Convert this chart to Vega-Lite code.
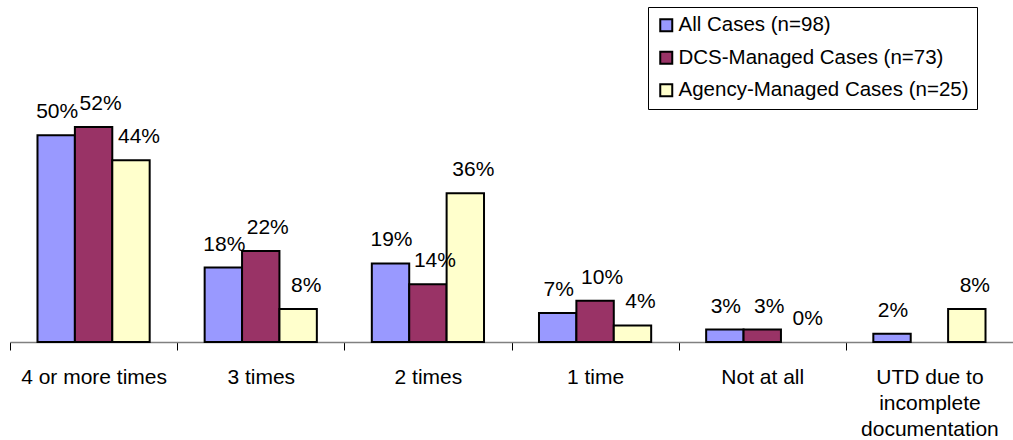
{
  "$schema": "https://vega.github.io/schema/vega-lite/v6.json",
  "width": 1003,
  "height": 248,
  "autosize": {"type": "none"},
  "padding": {"left": 10, "top": 94, "right": 0, "bottom": 98},
  "background": "white",
  "config": {"font": "Liberation Sans", "view": {"stroke": null}},
  "data": {
    "values": [
      {"category": "4 or more times", "series": "All Cases (n=98)", "value": 0.50},
      {"category": "4 or more times", "series": "DCS-Managed Cases (n=73)", "value": 0.52},
      {"category": "4 or more times", "series": "Agency-Managed Cases (n=25)", "value": 0.44},
      {"category": "3 times", "series": "All Cases (n=98)", "value": 0.18},
      {"category": "3 times", "series": "DCS-Managed Cases (n=73)", "value": 0.22},
      {"category": "3 times", "series": "Agency-Managed Cases (n=25)", "value": 0.08},
      {"category": "2 times", "series": "All Cases (n=98)", "value": 0.19},
      {"category": "2 times", "series": "DCS-Managed Cases (n=73)", "value": 0.14},
      {"category": "2 times", "series": "Agency-Managed Cases (n=25)", "value": 0.36},
      {"category": "1 time", "series": "All Cases (n=98)", "value": 0.07},
      {"category": "1 time", "series": "DCS-Managed Cases (n=73)", "value": 0.10},
      {"category": "1 time", "series": "Agency-Managed Cases (n=25)", "value": 0.04},
      {"category": "Not at all", "series": "All Cases (n=98)", "value": 0.03},
      {"category": "Not at all", "series": "DCS-Managed Cases (n=73)", "value": 0.03},
      {"category": "Not at all", "series": "Agency-Managed Cases (n=25)", "value": 0.0},
      {"category": "UTD due to incomplete documentation", "series": "All Cases (n=98)", "value": 0.02},
      {"category": "UTD due to incomplete documentation", "series": "Agency-Managed Cases (n=25)", "value": 0.08}
    ]
  },
  "encoding": {
    "x": {
      "field": "category",
      "type": "nominal",
      "sort": ["4 or more times", "3 times", "2 times", "1 time", "Not at all", "UTD due to incomplete documentation"],
      "scale": {"paddingInner": 0, "paddingOuter": 0},
      "axis": {
        "title": null,
        "labelAngle": 0,
        "labelFontSize": 21,
        "labelColor": "black",
        "labelPadding": 16,
        "labelLimit": 0,
        "labelBaseline": "top",
        "labelLineHeight": 26,
        "labelExpr": "datum.label == 'UTD due to incomplete documentation' ? ['UTD due to', 'incomplete', 'documentation'] : datum.label",
        "domainColor": "#808080",
        "domainWidth": 1.5,
        "tickBand": "extent",
        "tickColor": "black",
        "tickSize": 8,
        "tickWidth": 1
      }
    },
    "xOffset": {
      "field": "series",
      "type": "nominal",
      "sort": ["All Cases (n=98)", "DCS-Managed Cases (n=73)", "Agency-Managed Cases (n=25)"],
      "scale": {"paddingInner": 0, "paddingOuter": 0.735}
    },
    "y": {
      "field": "value",
      "type": "quantitative",
      "scale": {"domain": [0, 0.6], "nice": false},
      "axis": null
    }
  },
  "layer": [
    {
      "transform": [{"filter": "datum.value > 0"}],
      "mark": {"type": "bar", "stroke": "black", "strokeWidth": 2},
      "encoding": {
        "color": {
          "field": "series",
          "type": "nominal",
          "sort": ["All Cases (n=98)", "DCS-Managed Cases (n=73)", "Agency-Managed Cases (n=25)"],
          "scale": {
            "domain": ["All Cases (n=98)", "DCS-Managed Cases (n=73)", "Agency-Managed Cases (n=25)"],
            "range": ["#9999FF", "#993366", "#FFFFCC"]
          },
          "legend": {
            "title": null,
            "orient": "none",
            "legendX": 638,
            "legendY": -87,
            "strokeColor": "black",
            "fillColor": "white",
            "padding": 8,
            "labelFontSize": 20.5,
            "labelColor": "black",
            "labelLimit": 0,
            "symbolType": "square",
            "symbolSize": 144,
            "symbolStrokeColor": "black",
            "symbolStrokeWidth": 2,
            "symbolOpacity": 1,
            "rowPadding": 11.5,
            "labelOffset": 2
          }
        }
      }
    },
    {
      "transform": [{"filter": "datum.series == 'All Cases (n=98)'"}],
      "mark": {"type": "text", "fontSize": 21, "baseline": "alphabetic", "dy": -17, "dx": 1, "color": "black"},
      "encoding": {"text": {"field": "value", "type": "quantitative", "format": ".0%"}}
    },
    {
      "transform": [{"filter": "datum.series == 'DCS-Managed Cases (n=73)'"}],
      "mark": {"type": "text", "fontSize": 21, "baseline": "alphabetic", "dy": -17, "dx": 7, "color": "black"},
      "encoding": {"text": {"field": "value", "type": "quantitative", "format": ".0%"}}
    },
    {
      "transform": [{"filter": "datum.series == 'Agency-Managed Cases (n=25)'"}],
      "mark": {"type": "text", "fontSize": 21, "baseline": "alphabetic", "dy": -17, "dx": 8, "color": "black"},
      "encoding": {"text": {"field": "value", "type": "quantitative", "format": ".0%"}}
    }
  ]
}
